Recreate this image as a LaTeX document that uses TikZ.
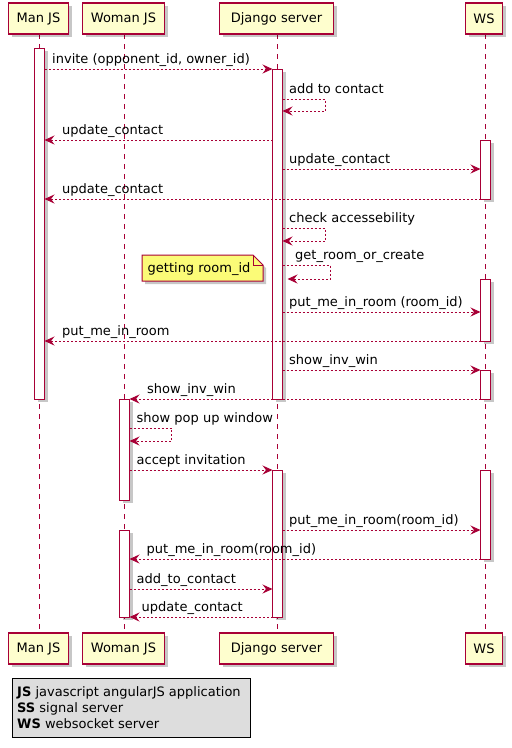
\documentclass[tikz,border=0pt]{standalone}
\usepackage{fontspec}
\setmainfont{DejaVu Sans}
\usetikzlibrary{arrows.meta,shadows}

\definecolor{umlred}{HTML}{A80036}
\definecolor{umlfill}{HTML}{FEFECE}
\definecolor{notefill}{HTML}{FBFB77}
\definecolor{legendfill}{HTML}{DDDDDD}

\tikzset{
  shade box/.style={drop shadow={shadow xshift=3pt, shadow yshift=-3pt, fill=black, opacity=0.22}},
  actor/.style={draw=umlred, line width=1.4pt, fill=umlfill, minimum height=31pt,
    inner sep=0pt, font=\fontsize{13}{15}\selectfont, shade box},
  lifeline/.style={draw=umlred, line width=0.9pt, dash pattern=on 5pt off 5pt},
  actbar/.style={draw=umlred, line width=1pt, fill=white, shade box},
  msg/.style={draw=umlred, line width=0.9pt, dash pattern=on 2pt off 2pt,
    -{Stealth[length=10pt, width=9pt, inset=3.5pt]}},
  lbl/.style={anchor=base west, inner sep=0pt, font=\fontsize{13}{15}\selectfont},
  notebox/.style={draw=umlred, line width=1pt, fill=notefill, shade box},
}

\begin{document}
\begin{tikzpicture}[x=1pt, y=-1pt]
\useasboundingbox (0,0) rectangle (512,748);

% lifelines
\coordinate (manT) at (39.5,34);   \coordinate (manB) at (39.5,634);
\coordinate (womT) at (124.5,34);  \coordinate (womB) at (124.5,634);
\coordinate (djT)  at (277.5,34);  \coordinate (djB)  at (277.5,634);
\coordinate (wsT)  at (485.5,34);  \coordinate (wsB)  at (485.5,634);
\draw[lifeline] (manT) -- (manB);
\draw[lifeline] (womT) -- (womB);
\draw[lifeline] (djT) -- (djB);
\draw[lifeline] (wsT) -- (wsB);

% participants, top and bottom
\node[actor, minimum width=60pt]  (manTop) at (38.5,18.5)  {Man JS};
\node[actor, minimum width=82pt]  (womTop) at (123.5,18.5) {Woman JS};
\node[actor, minimum width=114pt] (djTop)  at (276.5,18.5) {Django server};
\node[actor, minimum width=37pt]  (wsTop)  at (484,18.5)   {WS};
\node[actor, minimum width=60pt]  (manBot) at (38.5,648.5)  {Man JS};
\node[actor, minimum width=82pt]  (womBot) at (123.5,648.5) {Woman JS};
\node[actor, minimum width=114pt] (djBot)  at (276.5,648.5) {Django server};
\node[actor, minimum width=37pt]  (wsBot)  at (484,648.5)   {WS};

% activation bars
\path[actbar] (34.5,48) rectangle (44.5,399);
\path[actbar] (272.5,69) rectangle (282.5,399);
\path[actbar] (480.5,140) rectangle (490.5,199);
\path[actbar] (480.5,279) rectangle (490.5,341);
\path[actbar] (480.5,370) rectangle (490.5,399);
\path[actbar] (119.5,399) rectangle (129.5,500);
\path[actbar] (272.5,470) rectangle (282.5,617);
\path[actbar] (480.5,470) rectangle (490.5,559);
\path[actbar] (119.5,530) rectangle (129.5,617);

% note
\path[notebox] (142,255) -- (253,255) -- (263,265) -- (263,281) -- (142,281) -- cycle;
\draw[umlred, line width=1pt] (253,255) -- (253,265) -- (263,265);
\node[lbl] (note) at (147.5,272.5) {getting room\_id};

% messages
\coordinate (a1) at (44.5,69);   \coordinate (b1) at (272.5,69);
\draw[msg] (a1) -- (b1);
\node[lbl] (t1) at (52,63) {invite (opponent\_id, owner\_id)};

\coordinate (a2) at (282.5,99);  \coordinate (b2) at (282.5,111);
\draw[msg] (a2) -- ++(42.5,0) |- (b2);
\node[lbl] (t2) at (289,93) {add to contact};

\coordinate (a3) at (272.5,140); \coordinate (b3) at (44.5,140);
\draw[msg] (a3) -- (b3);
\node[lbl] (t3) at (62,134.5) {update\_contact};

\coordinate (a4) at (282.5,169); \coordinate (b4) at (480.5,169);
\draw[msg] (a4) -- (b4);
\node[lbl] (t4) at (289,163.5) {update\_contact};

\coordinate (a5) at (480.5,199); \coordinate (b5) at (44.5,199);
\draw[msg] (a5) -- (b5);
\node[lbl] (t5) at (62,193.5) {update\_contact};

\coordinate (a6) at (282.5,228); \coordinate (b6) at (282.5,241);
\draw[msg] (a6) -- ++(42.5,0) |- (b6);
\node[lbl] (t6) at (289,222) {check accessebility};

\coordinate (a7) at (282.5,265); \coordinate (b7) at (287.5,279);
\draw[msg] (a7) -- (330,265) |- (b7);
\node[lbl] (t7) at (295,259) {get\_room\_or\_create};

\coordinate (a8) at (282.5,312); \coordinate (b8) at (480.5,312);
\draw[msg] (a8) -- (b8);
\node[lbl] (t8) at (289,306.5) {put\_me\_in\_room (room\_id)};

\coordinate (a9) at (480.5,341); \coordinate (b9) at (44.5,341);
\draw[msg] (a9) -- (b9);
\node[lbl] (t9) at (62,335.5) {put\_me\_in\_room};

\coordinate (a10) at (282.5,370); \coordinate (b10) at (480.5,370);
\draw[msg] (a10) -- (b10);
\node[lbl] (t10) at (289,364.5) {show\_inv\_win};

\coordinate (a11) at (480.5,399); \coordinate (b11) at (129.5,399);
\draw[msg] (a11) -- (b11);
\node[lbl] (t11) at (147,393.5) {show\_inv\_win};

\coordinate (a12) at (129.5,428); \coordinate (b12) at (129.5,441);
\draw[msg] (a12) -- ++(42,0) |- (b12);
\node[lbl] (t12) at (136.5,422) {show pop up window};

\coordinate (a13) at (129.5,470); \coordinate (b13) at (272.5,470);
\draw[msg] (a13) -- (b13);
\node[lbl] (t13) at (136.5,464.5) {accept invitation};

\coordinate (a14) at (282.5,530); \coordinate (b14) at (480.5,530);
\draw[msg] (a14) -- (b14);
\node[lbl] (t14) at (289,524.5) {put\_me\_in\_room(room\_id)};

\coordinate (a15) at (480.5,559); \coordinate (b15) at (129.5,559);
\draw[msg] (a15) -- (b15);
\node[lbl] (t15) at (146.5,553.5) {put\_me\_in\_room(room\_id)};

\coordinate (a16) at (129.5,589); \coordinate (b16) at (272.5,589);
\draw[msg] (a16) -- (b16);
\node[lbl] (t16) at (136.5,583.5) {add\_to\_contact};

\coordinate (a17) at (272.5,617); \coordinate (b17) at (129.5,617);
\draw[msg] (a17) -- (b17);
\node[lbl] (t17) at (141.5,611.5) {update\_contact};

% legend
\path[draw=black, line width=1pt, fill=legendfill] (12,678) rectangle (250,737);
\node[lbl] (lg1) at (17,696.5) {\textbf{JS} javascript angularJS application};
\node[lbl] (lg2) at (17,712.5) {\textbf{SS} signal server};
\node[lbl] (lg3) at (17,728.5) {\textbf{WS} websocket server};
\end{tikzpicture}
\end{document}
